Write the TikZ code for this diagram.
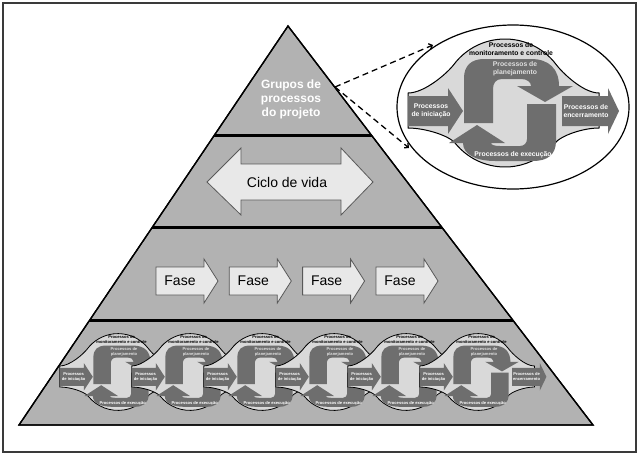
\documentclass[tikz,border=0pt]{standalone}
\usepackage{fontspec}
\setmainfont{Liberation Sans}
\usetikzlibrary{arrows.meta}
\definecolor{pyrgray}{HTML}{B2B2B2}
\definecolor{circgray}{HTML}{D9D9D9}
\definecolor{darkg}{HTML}{6E6E6E}
\definecolor{arrowlight}{HTML}{E8E8E8}
\definecolor{framec}{HTML}{3A3A3A}
\tikzset{
  pyr/.style={fill=pyrgray, draw=black, line width=1.3pt, line join=miter},
  pyredge/.style={draw=black, line width=1.3pt, line join=miter},
  divider/.style={draw=black, line width=3pt},
  lightarrow/.style={fill=arrowlight, draw=black!65, line width=0.8pt, line join=miter},
  darkshape/.style={fill=darkg},
  pgbody/.style={fill=circgray, draw=black},
  wtxt/.style={text=white, font=\bfseries\fontsize{6.8}{8.2}\selectfont, align=center, inner sep=0pt},
  btxt/.style={text=black, font=\bfseries\fontsize{6.8}{8.2}\selectfont, align=center, inner sep=0pt},
  ltxt/.style={text=white!88!black, font=\bfseries\fontsize{6.8}{8.2}\selectfont, align=center, inner sep=0pt},
  dashline/.style={dash pattern=on 6pt off 4pt, line width=1.3pt, -{Straight Barb[length=3pt,width=6pt]}},
  bigtxt/.style={text=white, font=\bfseries\fontsize{12}{14}\selectfont, align=center, inner sep=0pt},
  arrtxt/.style={font=\fontsize{14}{16}\selectfont, inner sep=0pt},
}
% #1 name prefix, #2 = 1 to draw the closing arrow, #3 outline width
\newcommand\procgroup[3]{%
  \path[pgbody, line width=#3]
    (-37:64) arc[start angle=-37, end angle=-143, radius=64]
    .. controls (-57.1,-30.5) and (-80,-10) .. (-97,-10)
    -- (-97,25)
    .. controls (-80,25) and (-56,32.5) .. (141:64)
    arc[start angle=141, end angle=39, radius=64]
    .. controls (56,32.5) and (78,25) .. (94,25)
    -- (94,-10)
    .. controls (78,-10) and (57.1,-30.5) .. (-37:64) -- cycle;
  % initiating arrow
  \path[darkshape] (-97,-7) -- (-57,-7) -- (-57,-15) -- (-42,8) -- (-57,31) -- (-57,23) -- (-97,23) -- cycle;
  \ifnum#2=1
  \path[darkshape] (57,-7) -- (103,-7) -- (103,-15) -- (114,8) -- (103,31) -- (103,23) -- (57,23) -- cycle;
  \fi
  % planning arrow
  \path[darkshape] (-41,20) -- (-41,-25) .. controls (-41,-37) and (-34,-44) .. (-21,-44)
    -- (26,-44) .. controls (44,-44) and (54,-34) .. (54,-17)
    -- (68,-17) -- (40,-1) -- (12,-17) -- (26,-17)
    .. controls (26,-21) and (22,-24) .. (16,-24) -- (-3,-24)
    .. controls (-9,-24) and (-12,-20) .. (-12,-14) -- (-12,20) -- cycle;
  % executing arrow
  \path[darkshape] (22,1) -- (51,1) -- (51,38)
    .. controls (51,52) and (42,58) .. (28,58) -- (-10,58)
    .. controls (-28,58) and (-42,52) .. (-42,40)
    -- (-56,40) -- (-28,22) -- (0,40) -- (-14,40)
    .. controls (-14,42) and (-10,43) .. (-5,43) -- (15,43)
    .. controls (19,43) and (22,40) .. (22,36) -- cycle;
  \node[wtxt] (#1ini) at (-74,8) {Processos\\de iniciação};
  \ifnum#2=1
  \node[wtxt] (#1enc) at (81,8) {Processos de\\encerramento};
  \fi
  \node[btxt] (#1mon) at (6,-54) {Processos de\\monitoramento e controle};
  \node[ltxt] (#1pla) at (10,-34) {Processos de\\planejamento};
  \node[wtxt] (#1exe) at (8,52) {Processos de execução};
}
\begin{document}
\begin{tikzpicture}[x=1pt,y=-1pt]
\useasboundingbox (0,0) rectangle (639,455);
\draw[framec, line width=2pt] (3,3) rectangle (636,452);

% pyramid
\coordinate (apex) at (288,26);
\coordinate (bl) at (19,425);
\coordinate (br) at (593,425);
\path[pyr] (apex) -- (br) -- (bl) -- cycle;
\coordinate (d1l) at (200,135);
\coordinate (d1r) at (390,135);
\coordinate (d2l) at (140,227);
\coordinate (d2r) at (460,227);
\coordinate (d3l) at (70,320);
\coordinate (d3r) at (530,320);
\begin{scope}
  \clip (apex) -- (br) -- (bl) -- cycle;
  \draw[divider] (d1l) -- (d1r);
  \draw[divider] (d2l) -- (d2r);
  \draw[divider] (d3l) -- (d3r);
\end{scope}
\path[pyredge] (apex) -- (br) -- (bl) -- cycle;

% top band
\node[bigtxt] (grupos) at (291,99.5) {Grupos de\\processos\\do projeto};

% life cycle
\path[lightarrow] (207,182) -- (241,148) -- (241,164) -- (341,164) -- (341,148)
  -- (373,182) -- (341,215) -- (341,200) -- (241,200) -- (241,215) -- cycle;
\node[arrtxt] (ciclo) at (287,182) {Ciclo de vida};

% phases
\foreach \x [count=\i] in {156,229.3,302.6,376}{
  \path[lightarrow] (\x,267) -- ++(48,0) -- ++(0,-8) -- ++(14,22) -- ++(-14,22)
    -- ++(0,-8) -- ++(-48,0) -- cycle;
  \node[arrtxt] (fase\i) at (\x+24,281) {Fase};
}

% bottom band: six process groups
\foreach \i in {0,...,4}{
  \begin{scope}[shift={(118+72*\i,372)}, scale=0.6, transform shape]
    \procgroup{m\i}{0}{0.8pt}
  \end{scope}
}
\begin{scope}[shift={(478,372)}, scale=0.6, transform shape]
  \procgroup{m5}{1}{0.8pt}
\end{scope}

% zoomed process group
\draw[fill=white, line width=1.2pt] (513,107) ellipse [x radius=116, y radius=82];
\begin{scope}[shift={(505,103)}]
  \procgroup{big}{1}{1pt}
\end{scope}

% dashed connectors
\coordinate (pe) at (335,87);
\coordinate (e1) at (433,45);
\coordinate (e2) at (409,148);
\draw[dashline] (pe) -- (e1);
\draw[dashline] (pe) -- (e2);
\end{tikzpicture}
\end{document}
